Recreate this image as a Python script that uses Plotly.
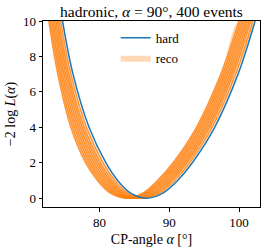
import plotly.graph_objects as go

# -2 log L levels at which the curves were read
levels = [10, 7, 4, 2, 1, 0.3, 0, 0.3, 1, 2, 4, 7, 10]

# hard-level likelihood curve (alpha in degrees at each level)
hard_alpha = [74.7, 76.2, 78.5, 80.9, 82.6, 84.4, 86.7, 89.15, 91.2, 93.3, 96.5, 99.85, 102.3]

# reco-level likelihood curves
reco_1 = [74.43, 75.90, 78.14, 80.5, 82.2, 84.0, 86.3, 88.75, 90.8, 92.92, 96.14, 99.51, 101.98]
reco_2 = [74.16, 75.60, 77.78, 80.1, 81.8, 83.6, 85.9, 88.35, 90.4, 92.54, 95.78, 99.17, 101.66]
reco_3 = [73.95, 75.37, 77.51, 79.8, 81.5, 83.3, 85.6, 88.05, 90.1, 92.25, 95.51, 98.91, 101.42]
reco_4 = [73.75, 75.15, 77.24, 79.5, 81.2, 83.0, 85.3, 87.75, 89.8, 91.97, 95.24, 98.66, 101.18]
reco_5 = [73.54, 74.92, 76.97, 79.2, 80.9, 82.7, 85.0, 87.45, 89.5, 91.68, 94.97, 98.40, 100.94]
reco_6 = [73.34, 74.70, 76.70, 78.9, 80.6, 82.4, 84.7, 87.15, 89.2, 91.40, 94.70, 98.15, 100.70]
reco_7 = [73.14, 74.47, 76.43, 78.6, 80.3, 82.1, 84.4, 86.85, 88.9, 91.11, 94.43, 97.89, 100.46]
reco_8 = [72.93, 74.25, 76.16, 78.3, 80.0, 81.8, 84.1, 86.55, 88.6, 90.83, 94.16, 97.64, 100.22]
reco_9 = [72.73, 74.02, 75.89, 78.0, 79.7, 81.5, 83.8, 86.25, 88.3, 90.54, 93.89, 97.38, 99.98]
reco_curves = [reco_1, reco_2, reco_3, reco_4, reco_5, reco_6, reco_7, reco_8, reco_9]

x_ticks = [80, 90, 100]
y_ticks = [0, 2, 4, 6, 8, 10]

BLUE = "#1f77b4"
FONT = "Liberation Serif, DejaVu Serif, serif"

fig = go.Figure()

# band between outermost reco curves
band_x = reco_curves[-1] + reco_curves[0][::-1]
band_y = levels + levels[::-1]
fig.add_trace(go.Scatter(
    x=band_x, y=band_y, mode="lines", fill="toself",
    fillcolor="rgba(255,127,14,0.3)", line=dict(width=0, shape="spline", smoothing=1.0),
    name="reco", showlegend=False, hoverinfo="skip"))

for c in reco_curves:
    fig.add_trace(go.Scatter(
        x=c, y=levels, mode="lines",
        line=dict(color="rgba(255,127,14,0.8)", width=1.5, shape="spline", smoothing=1.0),
        showlegend=False, hoverinfo="skip"))

fig.add_trace(go.Scatter(
    x=hard_alpha, y=levels, mode="lines", name="hard",
    line=dict(color=BLUE, width=1.5, shape="spline", smoothing=1.0)))

# legend entry for reco (filled patch)
fig.add_trace(go.Scatter(
    x=[None], y=[None], mode="lines", fill="toself", name="reco",
    fillcolor="rgba(255,127,14,0.3)", line=dict(width=0)))

axis_common = dict(
    showline=True, linecolor="black", linewidth=1, mirror=True,
    ticks="outside", ticklen=3.5, tickwidth=1, tickcolor="black",
    showgrid=False, zeroline=False,
    tickfont=dict(family=FONT, size=13, color="black"),
)

fig.update_layout(
    width=266, height=250,
    margin=dict(l=43, r=6, t=21, b=43),
    paper_bgcolor="white", plot_bgcolor="white",
    font=dict(family=FONT, color="black", size=12),
    title=dict(text="hadronic, <i>α</i> = 90°, 400 events", xref="paper", x=0.5,
               xanchor="center",
               yref="container", y=1 - 12 / 250, yanchor="middle", pad=dict(t=0, b=0),
               font=dict(family=FONT, size=15.5)),
    xaxis=dict(range=[71.9, 103], tickvals=x_ticks,
               title=dict(text="CP-angle <i>α</i> [°]", standoff=5,
                          font=dict(family=FONT, size=14)),
               **axis_common),
    yaxis=dict(range=[-0.5, 10], tickvals=y_ticks,
               title=dict(text="−2 log <i>L</i>(<i>α</i>)", standoff=4,
                          font=dict(family=FONT, size=14)),
               **axis_common),
    legend=dict(x=0.335, y=0.99, xanchor="left", yanchor="top",
                bgcolor="rgba(0,0,0,0)", borderwidth=0,
                font=dict(family=FONT, size=13), itemwidth=30,
                tracegroupgap=0),
    showlegend=True,
    hovermode=False,
)

# remove the browser's default 8px body margin so the figure fills the window
fig.write_html("out.html", config={"displayModeBar": False, "staticPlot": True},
               post_script="document.body.style.margin='0px';")
